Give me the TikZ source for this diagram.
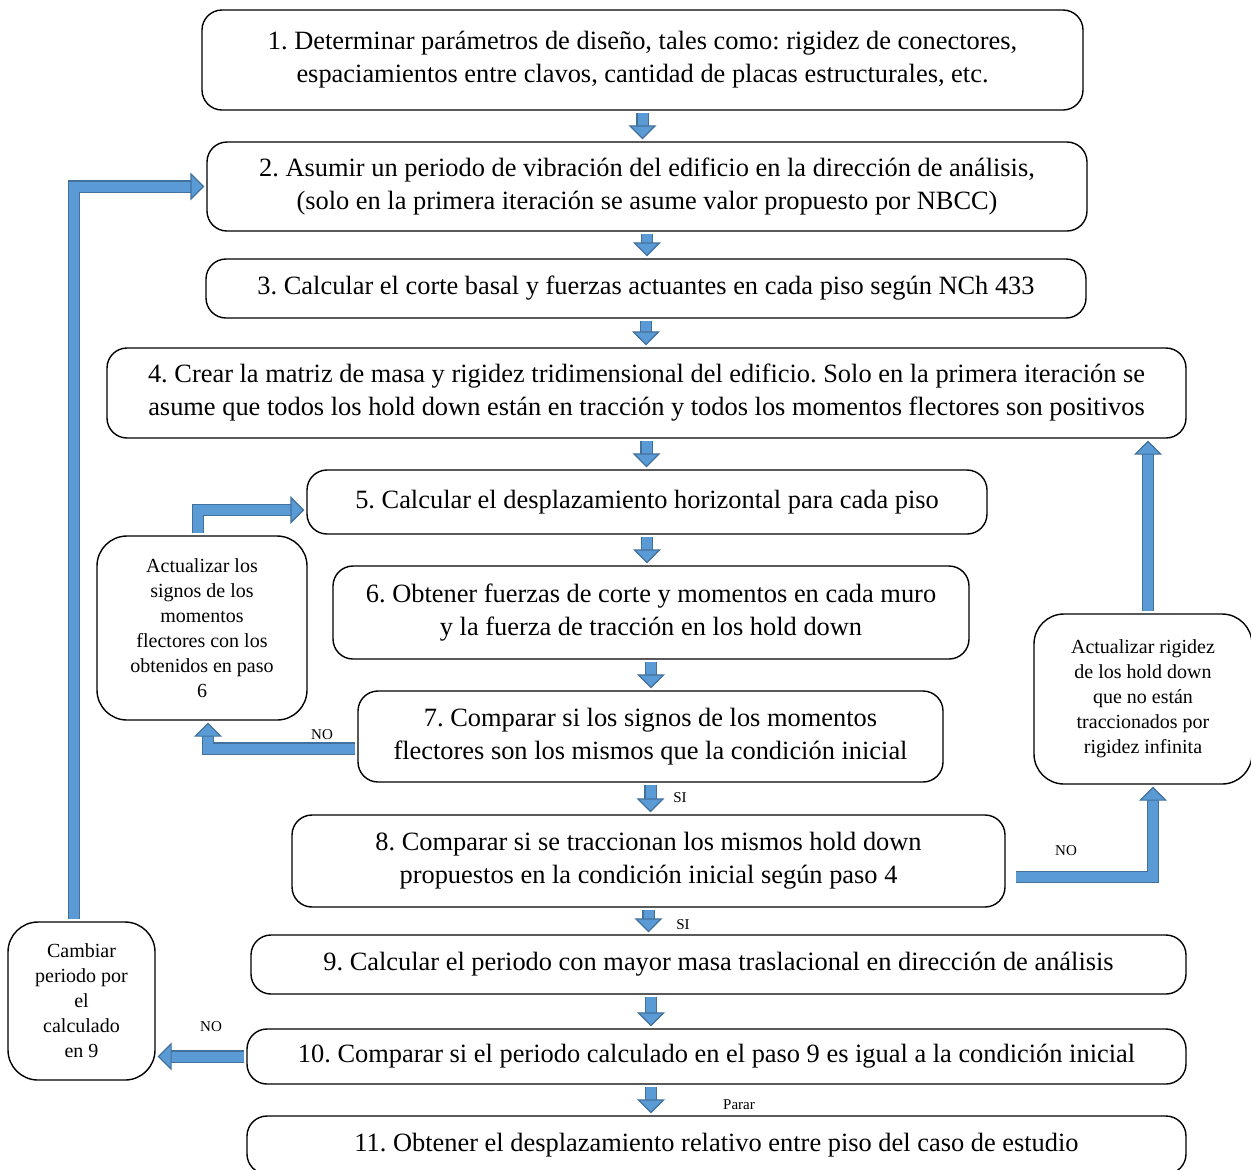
\documentclass[tikz,border=0pt]{standalone}
\usepackage{fontspec}
\setmainfont{Liberation Serif}
\usetikzlibrary{arrows.meta,positioning,calc}
\definecolor{arrowfill}{RGB}{91,155,213}
\definecolor{arrowedge}{RGB}{65,113,156}
\frenchspacing
\tikzset{
    paso/.style={
        draw=black,
        line width=0.7pt,
        rounded corners=10pt,
        align=center,
        inner sep=0pt,
        font=\fontsize{13.2}{16.5}\selectfont,
    },
    lateral/.style={
        paso,
        rounded corners=15pt,
        font=\fontsize{10}{12.5}\selectfont,
    },
    flujo/.style={
        draw=arrowedge,
        line width=0.6pt,
        double=arrowfill,
        double distance=5pt,
        shorten <=1pt,
        shorten >=1pt,
        -{Triangle[length=7pt,width=14pt,fill=arrowfill]},
    },
    etiqueta/.style={
        font=\fontsize{7.5}{9}\selectfont,
    },
}

\begin{document}
\begin{tikzpicture}[x=0.5pt,y=-0.5pt]
    \useasboundingbox (0,0) rectangle (1251,1169);
    % pasos principales
    \node [paso,minimum width=440.5pt,minimum height=50pt] (b1) at (642.5,60)
        {1. Determinar parámetros de diseño, tales como: rigidez de conectores,\\espaciamientos entre clavos, cantidad de placas estructurales, etc.};
    \node [paso,minimum width=440pt,minimum height=44.5pt] (b2) at (647,186.5)
        {2. Asumir un periodo de vibración del edificio en la dirección de análisis,\\(solo en la primera iteración se asume valor propuesto por NBCC)};
    \node [paso,minimum width=440pt,minimum height=29.5pt] (b3) at (646,288.5)
        {3. Calcular el corte basal y fuerzas actuantes en cada piso según NCh 433};
    \node [paso,minimum width=539.5pt,minimum height=45pt] (b4) at (646.5,393)
        {4. Crear la matriz de masa y rigidez tridimensional del edificio. Solo en la primera iteración se\\asume que todos los hold down están en tracción y todos los momentos flectores son positivos};
    \node [paso,minimum width=340pt,minimum height=32pt] (b5) at (647,502)
        {5. Calcular el desplazamiento horizontal para cada piso};
    \node [paso,minimum width=318pt,minimum height=46.5pt] (b6) at (651,612.5)
        {6. Obtener fuerzas de corte y momentos en cada muro\\y la fuerza de tracción en los hold down};
    \node [paso,minimum width=292.5pt,minimum height=45.5pt] (b7) at (650.5,736.5)
        {7. Comparar si los signos de los momentos\\flectores son los mismos que la condición inicial};
    \node [paso,minimum width=356.5pt,minimum height=46pt] (b8) at (648.5,861)
        {8. Comparar si se traccionan los mismos hold down\\propuestos en la condición inicial según paso 4};
    \node [paso,minimum width=467.5pt,minimum height=29.5pt] (b9) at (718.5,964.5)
        {9. Calcular el periodo con mayor masa traslacional en dirección de análisis};
    \node [paso,minimum width=469.5pt,minimum height=27.5pt] (b10) at (716.5,1056.5)
        {10. Comparar si el periodo calculado en el paso 9 es igual a la condición inicial};
    \node [paso,minimum width=469.5pt,minimum height=29pt] (b11) at (716.5,1145)
        {11. Obtener el desplazamiento relativo entre piso del caso de estudio};
    % cajas laterales
    \node [lateral,minimum width=105pt,minimum height=92pt] (sa) at (202,628)
        {Actualizar los\\signos de los\\momentos\\flectores con los\\obtenidos en paso\\6};
    \node [lateral,minimum width=109pt,minimum height=85pt] (sb) at (1143,699)
        {Actualizar rigidez\\de los hold down\\que no están\\traccionados por\\rigidez infinita};
    \node [lateral,minimum width=73.5pt,minimum height=79pt] (sc) at (81.5,1001)
        {Cambiar\\periodo por\\el\\calculado\\en 9};
    % flechas hacia abajo
    \foreach \a/\b in {b1/b2,b2/b3,b3/b4,b4/b5,b5/b6,b6/b7,b7/b8,b8/b9}
        \draw [flujo] (\a.south) -- (\a.south |- \b.north);
    \draw [flujo] (b9.south -| b6.south) -- (b10.north -| b6.south);
    \draw [flujo] (b10.south -| b6.south) -- (b11.north -| b6.south);
    % retornos
    \draw [flujo] ([xshift=-3.75pt]sc.north) |- (b2.west);
    \draw [flujo] ([xshift=-2pt]sa.north) |- ([yshift=-4pt]b5.west);
    \draw [flujo] ([yshift=-6pt]b7.west) -| ([xshift=3pt]sa.south);
    \draw [flujo] ([xshift=4pt,yshift=-8pt]b8.east) -| ([xshift=5pt]sb.south);
    \draw [flujo] ([xshift=2.5pt]sb.north) -- ([xshift=2.5pt]sb.north |- b4.south);
    \draw [flujo] (b10.west) -- (b10.west -| sc.east);
    % etiquetas
    \node [etiqueta] (no7) at (322,735) {NO};
    \node [etiqueta] (no8) at (1066,851) {NO};
    \node [etiqueta] (no10) at (211,1027) {NO};
    \node [etiqueta] (si7) at (680,798) {SI};
    \node [etiqueta] (si8) at (683,925) {SI};
    \node [etiqueta] (parar) at (739,1105) {Parar};
\end{tikzpicture}
\end{document}
